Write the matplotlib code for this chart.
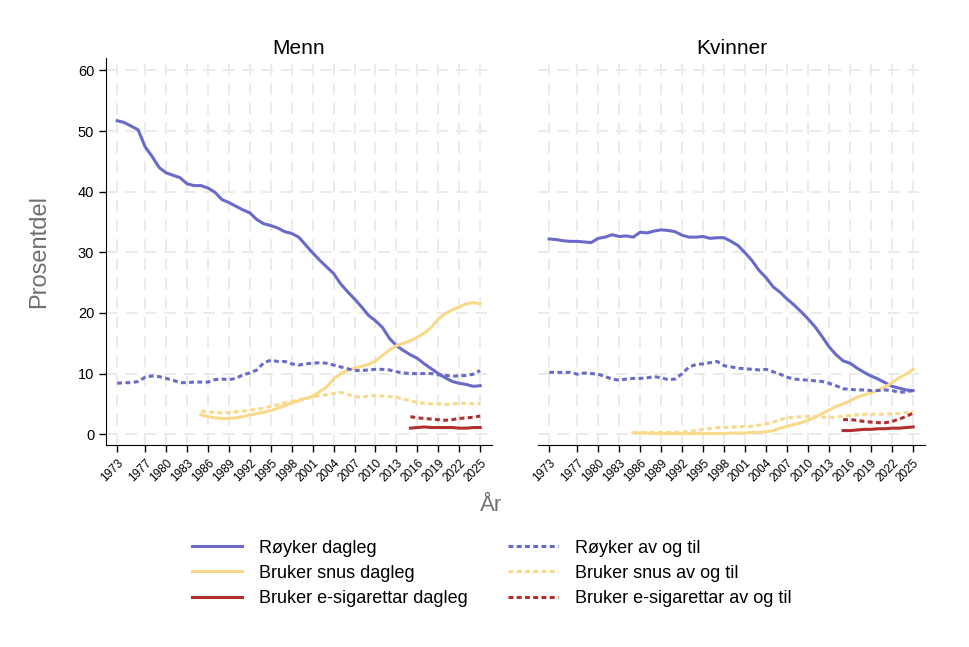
import numpy as np
import matplotlib
matplotlib.use("Agg")
import matplotlib.pyplot as plt

plt.rcParams['font.family'] = ['Liberation Sans', 'DejaVu Sans']

years = list(range(1973, 2026))
years_snus = list(range(1985, 2026))
years_ecig = list(range(2015, 2026))

tick_years = [1973, 1977, 1980, 1983, 1986, 1989, 1992, 1995, 1998, 2001,
              2004, 2007, 2010, 2013, 2016, 2019, 2022, 2025]

# Menn
menn_royk_dagleg = [51.7, 51.4, 50.8, 50.2, 47.4, 45.8, 44.0, 43.1, 42.7, 42.3,
                    41.3, 41.0, 41.0, 40.6, 39.9, 38.7, 38.2, 37.6, 37.0, 36.5,
                    35.4, 34.7, 34.4, 34.0, 33.4, 33.1, 32.5, 31.2, 29.9, 28.7,
                    27.6, 26.5, 24.8, 23.5, 22.3, 21.0, 19.6, 18.7, 17.6, 15.8,
                    14.6, 13.8, 13.1, 12.5, 11.6, 10.8, 10.0, 9.3, 8.7, 8.4,
                    8.2, 7.9, 8.0]
menn_royk_avogtil = [8.4, 8.5, 8.5, 8.7, 9.4, 9.6, 9.5, 9.2, 8.9, 8.5,
                     8.5, 8.6, 8.6, 8.6, 9.0, 9.1, 9.0, 9.2, 9.8, 10.1,
                     10.6, 11.8, 12.2, 12.0, 12.0, 11.6, 11.4, 11.6, 11.7, 11.8,
                     11.7, 11.4, 11.1, 10.8, 10.5, 10.5, 10.6, 10.7, 10.7, 10.6,
                     10.3, 10.1, 10.0, 10.0, 10.0, 10.0, 9.8, 9.7, 9.6, 9.6,
                     9.7, 9.9, 10.5]
menn_snus_dagleg = [3.2, 2.9, 2.7, 2.6, 2.6, 2.7, 2.9, 3.2, 3.4, 3.6,
                    3.9, 4.3, 4.7, 5.2, 5.5, 5.9, 6.3, 7.0, 7.8, 9.1,
                    10.0, 10.5, 10.9, 11.2, 11.5, 12.1, 13.0, 13.9, 14.6, 15.0,
                    15.4, 16.0, 16.7, 17.6, 19.0, 19.9, 20.5, 21.0, 21.5, 21.7,
                    21.5]
menn_snus_avogtil = [3.8, 3.7, 3.6, 3.5, 3.6, 3.7, 3.8, 4.0, 4.1, 4.3,
                     4.6, 4.9, 5.2, 5.4, 5.7, 5.9, 6.1, 6.4, 6.5, 6.7,
                     6.9, 6.6, 6.2, 6.1, 6.3, 6.4, 6.3, 6.2, 6.1, 5.8,
                     5.5, 5.2, 5.1, 5.0, 5.0, 4.9, 5.0, 5.1, 5.1, 5.0,
                     5.1]
menn_ecig_dagleg = [1.0, 1.1, 1.2, 1.1, 1.1, 1.1, 1.1, 1.0, 1.0, 1.1, 1.1]
menn_ecig_avogtil = [2.9, 2.7, 2.6, 2.5, 2.4, 2.3, 2.4, 2.6, 2.7, 2.8, 3.0]

# Kvinner
kv_royk_dagleg = [32.2, 32.1, 31.9, 31.8, 31.8, 31.7, 31.6, 32.3, 32.5, 32.9,
                  32.6, 32.7, 32.5, 33.3, 33.2, 33.5, 33.7, 33.6, 33.4, 32.8,
                  32.5, 32.5, 32.6, 32.3, 32.4, 32.4, 31.8, 31.1, 29.9, 28.6,
                  27.0, 25.8, 24.3, 23.4, 22.3, 21.3, 20.2, 19.0, 17.7, 16.1,
                  14.4, 13.1, 12.1, 11.7, 10.9, 10.2, 9.6, 9.1, 8.5, 7.9,
                  7.6, 7.3, 7.2]
kv_royk_avogtil = [10.2, 10.2, 10.2, 10.2, 9.9, 10.1, 10.0, 9.9, 9.5, 9.1,
                   8.9, 9.1, 9.2, 9.2, 9.3, 9.5, 9.3, 9.0, 9.1, 10.0,
                   11.1, 11.5, 11.6, 11.8, 12.0, 11.3, 11.1, 10.9, 10.8, 10.7,
                   10.6, 10.7, 10.3, 9.9, 9.4, 9.1, 9.0, 8.9, 8.8, 8.7,
                   8.4, 8.0, 7.5, 7.4, 7.3, 7.3, 7.2, 7.2, 7.3, 7.2,
                   6.9, 7.0, 7.2]
kv_snus_dagleg = [0.2, 0.2, 0.2, 0.1, 0.1, 0.1, 0.1, 0.1, 0.1, 0.1,
                  0.1, 0.1, 0.1, 0.1, 0.2, 0.2, 0.2, 0.3, 0.3, 0.4,
                  0.6, 1.0, 1.3, 1.6, 1.9, 2.3, 2.8, 3.4, 4.0, 4.6,
                  5.0, 5.5, 6.1, 6.5, 6.8, 7.3, 7.8, 8.5, 9.3, 9.9,
                  10.7]
kv_snus_avogtil = [0.3, 0.3, 0.3, 0.3, 0.3, 0.3, 0.3, 0.4, 0.4, 0.6,
                   0.8, 0.9, 1.1, 1.1, 1.2, 1.2, 1.3, 1.3, 1.5, 1.7,
                   2.0, 2.4, 2.7, 2.8, 2.9, 2.9, 2.9, 2.8, 2.8, 2.8,
                   3.0, 3.1, 3.2, 3.3, 3.3, 3.3, 3.3, 3.4, 3.4, 3.6,
                   3.8]
kv_ecig_dagleg = [0.6, 0.6, 0.7, 0.8, 0.8, 0.9, 0.9, 1.0, 1.0, 1.1, 1.2]
kv_ecig_avogtil = [2.4, 2.4, 2.3, 2.1, 2.0, 1.9, 1.9, 2.1, 2.5, 2.9, 3.5]

blue = '#6a6acb'
yellow = '#f9d98a'
red = '#b03030'
dotted = (0, (1.6, 1.1))

fig = plt.figure(figsize=(9.7, 6.47), dpi=100)
ax1 = fig.add_axes([0.1093, 0.312, 0.398, 0.598])
ax2 = fig.add_axes([0.5546, 0.312, 0.399, 0.598])

panels = [
    (ax1, "Menn", menn_royk_dagleg, menn_royk_avogtil, menn_snus_dagleg,
     menn_snus_avogtil, menn_ecig_dagleg, menn_ecig_avogtil),
    (ax2, "Kvinner", kv_royk_dagleg, kv_royk_avogtil, kv_snus_dagleg,
     kv_snus_avogtil, kv_ecig_dagleg, kv_ecig_avogtil),
]

for ax, title, rd, ra, sd, sa, ed, ea in panels:
    ax.plot(years, rd, color=blue, lw=2.2, label="Røyker dagleg")
    ax.plot(years_snus, sd, color=yellow, lw=2.2, label="Bruker snus dagleg")
    ax.plot(years_ecig, ed, color=red, lw=2.2, label="Bruker e-sigarettar dagleg")
    ax.plot(years, ra, color=blue, lw=2.2, ls=dotted, label="Røyker av og til")
    ax.plot(years_snus, sa, color=yellow, lw=2.2, ls=dotted, label="Bruker snus av og til")
    ax.plot(years_ecig, ea, color=red, lw=2.2, ls=dotted, label="Bruker e-sigarettar av og til")

    ax.set_xlim(1971.4, 2026.7)
    ax.set_ylim(-1.8, 62)
    ax.set_xticks(tick_years)
    ax.set_xticklabels([str(y) for y in tick_years], rotation=45, ha='right',
                       rotation_mode='anchor', fontsize=8.5)
    ax.set_yticks([0, 10, 20, 30, 40, 50, 60])
    ax.tick_params(axis='y', labelsize=10.5, length=5, width=1)
    ax.tick_params(axis='x', length=5, width=1)
    ax.grid(True, color='#ebebeb', lw=1.4, ls=(0, (6, 4)))
    ax.set_axisbelow(True)
    for s in ['top', 'right']:
        ax.spines[s].set_visible(False)
    ax.set_title(title, fontsize=15, pad=3)

ax2.spines['left'].set_visible(False)
ax2.tick_params(axis='y', left=False, labelleft=False)

ax1.set_ylabel("Prosentdel", fontsize=17, color='#707070', labelpad=20)
fig.text(0.506, 0.218, "År", fontsize=16, color='#707070', ha='center', va='center')

handles, labels = ax1.get_legend_handles_labels()
fig.legend(handles, labels, loc='upper center', bbox_to_anchor=(0.507, 0.191),
           ncol=2, frameon=False, fontsize=13, handlelength=2.8,
           handletextpad=0.95, columnspacing=2.2, labelspacing=0.45)

fig.savefig("out.png", dpi=100)
